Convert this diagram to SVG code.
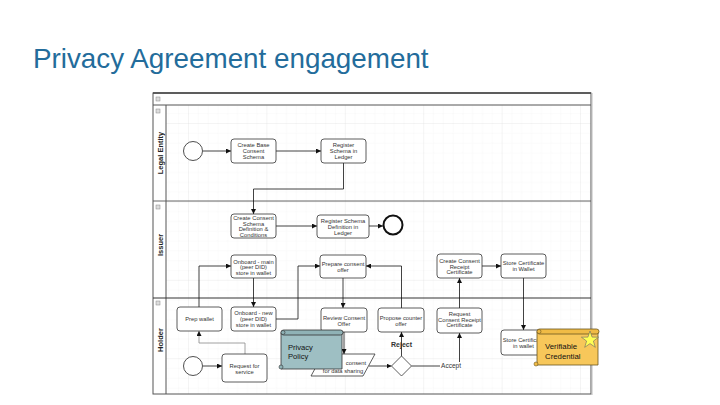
<svg xmlns="http://www.w3.org/2000/svg" width="720" height="405" viewBox="0 0 720 405">
<defs>
<style>
.node rect{fill:#fff;stroke:#333;stroke-width:0.8}
.node text,.t{font-family:"Liberation Sans",Arial,sans-serif;font-size:5.8px;fill:#333;text-anchor:middle}
.lane{font-family:"Liberation Sans",Arial,sans-serif;font-size:7.5px;font-weight:bold;fill:#222;text-anchor:middle}
.c{fill:none;stroke:#111;stroke-width:0.8}
.ev{fill:#fff;stroke:#222;stroke-width:0.8}
.ico{fill:#ddd;stroke:#888;stroke-width:0.5}
</style>
<marker id="ah" viewBox="0 0 10 10" refX="10" refY="5" markerWidth="5" markerHeight="5" orient="auto" markerUnits="userSpaceOnUse"><path d="M0,0 L10,5 L0,10 z" fill="#111"/></marker>
<pattern id="minor" width="9.8" height="9.8" patternUnits="userSpaceOnUse"><path d="M9.8 0H0V9.8" fill="none" stroke="#efefef" stroke-width="0.5"/></pattern>
<pattern id="grid" width="78.4" height="78.4" patternUnits="userSpaceOnUse" x="188" y="123"><rect width="78.4" height="78.4" fill="url(#minor)"/><path d="M78.4 0H0V78.4" fill="none" stroke="#e2e2e2" stroke-width="0.6"/></pattern>
</defs>
<rect width="720" height="405" fill="#fff"/>
<text x="33" y="68" font-family="'Liberation Sans',Arial,sans-serif" font-size="27.8" fill="#236c9b">Privacy Agreement engagement</text>

<g id="pool">
<rect x="166" y="105" width="425" height="289" fill="url(#grid)"/>
<rect x="153" y="93" width="438" height="301" fill="none" stroke="#555" stroke-width="1"/>
<line x1="153" y1="93" x2="591" y2="93" stroke="#444" stroke-width="1.5"/>
<line x1="153" y1="105" x2="591" y2="105" stroke="#555" stroke-width="1"/>
<line x1="166" y1="105" x2="166" y2="394" stroke="#555" stroke-width="1"/>
<line x1="153" y1="201" x2="591" y2="201" stroke="#555" stroke-width="0.9"/>
<line x1="153" y1="298" x2="591" y2="298" stroke="#333" stroke-width="1"/>
<line x1="592" y1="93" x2="592" y2="395" stroke="#bbb" stroke-width="1"/>
<rect class="ico" x="156" y="97" width="4" height="4"/>
<rect class="ico" x="156" y="109" width="4" height="4"/>
<rect class="ico" x="156" y="205" width="4" height="4"/>
<rect class="ico" x="156" y="301" width="4" height="4"/>
<text class="lane" transform="translate(162.5,153) rotate(-90)">Legal Entity</text>
<text class="lane" transform="translate(162.5,245) rotate(-90)">Issuer</text>
<text class="lane" transform="translate(162.5,340) rotate(-90)">Holder</text>
</g>

<g id="connectors">
<path class="c" d="M203,151 H231" marker-end="url(#ah)"/>
<path class="c" d="M276,151 H321" marker-end="url(#ah)"/>
<path class="c" d="M343.5,163 V189 H253.5 V214" marker-end="url(#ah)"/>
<path class="c" d="M276,226 H317" marker-end="url(#ah)"/>
<path class="c" d="M369,226 H383" marker-end="url(#ah)"/>
<path class="c" d="M199,307 V266 H231" marker-end="url(#ah)"/>
<path class="c" d="M253.5,278 V307" marker-end="url(#ah)"/>
<path class="c" d="M276,319 H298 V266 H320" marker-end="url(#ah)"/>
<path class="c" d="M343,278 V308" marker-end="url(#ah)"/>
<path class="c" d="M401.5,308 V266 H366" marker-end="url(#ah)"/>
<path class="c" d="M459.5,308 V278" marker-end="url(#ah)"/>
<path class="c" d="M482,266 H501" marker-end="url(#ah)"/>
<path class="c" d="M523.5,278 V330" marker-end="url(#ah)"/>
<path class="c" d="M203,366 H222" marker-end="url(#ah)"/>
<path d="M245,354 V343 H199 V331" fill="none" stroke="#888" stroke-width="0.8" marker-end="url(#ah)"/>
<path class="c" d="M369,366 H391.5" marker-end="url(#ah)"/>
<path class="c" d="M401.5,356 V332" marker-end="url(#ah)"/>
<path class="c" d="M411.5,366 H459.5 V333" marker-end="url(#ah)"/>
<text x="401.5" y="347" font-family="'Liberation Sans',Arial,sans-serif" font-size="7" font-weight="bold" fill="#333" text-anchor="middle">Reject</text>
<rect x="440" y="362" width="22" height="7" fill="#fff"/>
<text x="451" y="368" font-family="'Liberation Sans',Arial,sans-serif" font-size="6.5" fill="#333" text-anchor="middle">Accept</text>
</g>

<g id="start-legal"><circle class="ev" cx="193" cy="151" r="9.5"/></g>
<g id="create-base" class="node"><rect x="231" y="139" width="45" height="24" rx="3"/><text x="253.5" y="147">Create Base</text><text x="253.5" y="153">Consent</text><text x="253.5" y="159">Schema</text></g>
<g id="register-schema" class="node"><rect x="321" y="139" width="45" height="24" rx="3"/><text x="343.5" y="147">Register</text><text x="343.5" y="153">Schema in</text><text x="343.5" y="159">Ledger</text></g>

<g id="create-consent-schema" class="node"><rect x="231" y="214" width="45" height="24" rx="3"/><text x="253.5" y="220">Create Consent</text><text x="253.5" y="225.7">Schema</text><text x="253.5" y="231.4">Definition &amp;</text><text x="253.5" y="237">Conditions</text></g>
<g id="register-schema-def" class="node"><rect x="317" y="215" width="52" height="23" rx="3"/><text x="343" y="223">Register Schema</text><text x="343" y="229">Definition in</text><text x="343" y="234.5">Ledger</text></g>
<g id="end-issuer"><circle cx="393" cy="225" r="9.5" fill="#fff" stroke="#111" stroke-width="2"/></g>
<g id="onboard-main" class="node"><rect x="231" y="255" width="45" height="23" rx="3"/><text x="253.5" y="263.5">Onboard - main</text><text x="253.5" y="269">(peer DID)</text><text x="253.5" y="274.5">store in wallet</text></g>
<g id="prepare-offer" class="node"><rect x="320" y="255" width="46" height="23" rx="3"/><text x="343" y="266">Prepare consent</text><text x="343" y="272">offer</text></g>
<g id="create-receipt" class="node"><rect x="437" y="254" width="45" height="24" rx="3"/><text x="459.5" y="263">Create Consent</text><text x="459.5" y="268.5">Receipt</text><text x="459.5" y="274">Certificate</text></g>
<g id="store-cert-issuer" class="node"><rect x="501" y="254" width="45" height="24" rx="3"/><text x="523.5" y="265">Store Certificate</text><text x="523.5" y="271">in Wallet</text></g>

<g id="prep-wallet" class="node"><rect x="177" y="307" width="45" height="24" rx="3"/><text x="199.5" y="321">Prep wallet</text></g>
<g id="onboard-new" class="node"><rect x="231" y="307" width="45" height="24" rx="3"/><text x="253.5" y="315">Onboard - new</text><text x="253.5" y="321">(peer DID)</text><text x="253.5" y="327">store in wallet</text></g>
<g id="review-offer" class="node"><rect x="321" y="308" width="46" height="24" rx="3"/><text x="344" y="319.5">Review Consent</text><text x="344" y="325.5">Offer</text></g>
<g id="propose-counter" class="node"><rect x="378" y="308" width="46" height="24" rx="3"/><text x="401" y="319.5">Propose counter</text><text x="401" y="325.5">offer</text></g>
<g id="request-receipt" class="node"><rect x="437" y="308" width="45" height="25" rx="3"/><text x="459.5" y="316">Request</text><text x="459.5" y="321.5">Consent Receipt</text><text x="459.5" y="327">Certificate</text></g>
<g id="store-cert-holder" class="node"><rect x="501" y="330" width="45" height="25" rx="3"/><text x="523.5" y="342">Store Certificate</text><text x="523.5" y="348">in wallet</text></g>
<g id="start-holder"><circle class="ev" cx="193" cy="366" r="9.5"/></g>
<g id="request-service" class="node"><rect x="222" y="354" width="45" height="28" rx="3"/><text x="244.5" y="368">Request for</text><text x="244.5" y="374">service</text></g>
<g id="consent-data"><polygon points="323,354 375,354 363,376 311,376" fill="#fff" stroke="#333" stroke-width="0.8"/><text class="t" x="356" y="365">consent</text><text class="t" x="343" y="373">for data sharing</text></g>
<g id="gateway"><polygon points="401.5,356 411.5,366 401.5,376 391.5,366" fill="#fff" stroke="#333" stroke-width="0.8"/></g>

<g id="privacy-policy">
<path d="M281,333 H342 V369 H281 Z" fill="#9ebfc3" stroke="#333" stroke-width="0.8"/>
<rect x="281" y="330" width="62" height="5" rx="2.5" fill="#8fb2b6" stroke="#333" stroke-width="0.8"/>
<circle cx="283" cy="332.5" r="2" fill="#8fb2b6" stroke="#333" stroke-width="0.6"/>
<circle cx="281" cy="367" r="2" fill="#8fb2b6" stroke="#333" stroke-width="0.6"/>
<text x="288" y="350" font-family="'Liberation Sans',Arial,sans-serif" font-size="7.6" fill="#111">Privacy</text>
<text x="288" y="359" font-family="'Liberation Sans',Arial,sans-serif" font-size="7.6" fill="#111">Policy</text>
</g>
<path class="c" d="M344,332 V354" marker-end="url(#ah)"/>

<g id="verifiable-credential">
<path d="M537,332 H598 V365 H537 Z" fill="#f7c75a" stroke="#6b5520" stroke-width="0.8"/>
<rect x="537" y="329" width="62" height="5" rx="2.5" fill="#f0bb45" stroke="#6b5520" stroke-width="0.8"/>
<circle cx="539" cy="331.5" r="2" fill="#f0bb45" stroke="#6b5520" stroke-width="0.6"/>
<circle cx="536" cy="364" r="2" fill="#f0bb45" stroke="#6b5520" stroke-width="0.6"/>
<polygon points="590,331 592.1,337.1 598.6,337.2 593.4,341.1 595.3,347.3 590,343.6 584.7,347.3 586.6,341.1 581.4,337.2 587.9,337.1" fill="#ffff55" stroke="#666" stroke-width="0.6"/>
<text x="545" y="349" font-family="'Liberation Sans',Arial,sans-serif" font-size="7.8" fill="#111">Verifiable</text>
<text x="545" y="359" font-family="'Liberation Sans',Arial,sans-serif" font-size="7.8" fill="#111">Credential</text>
</g>
</svg>
